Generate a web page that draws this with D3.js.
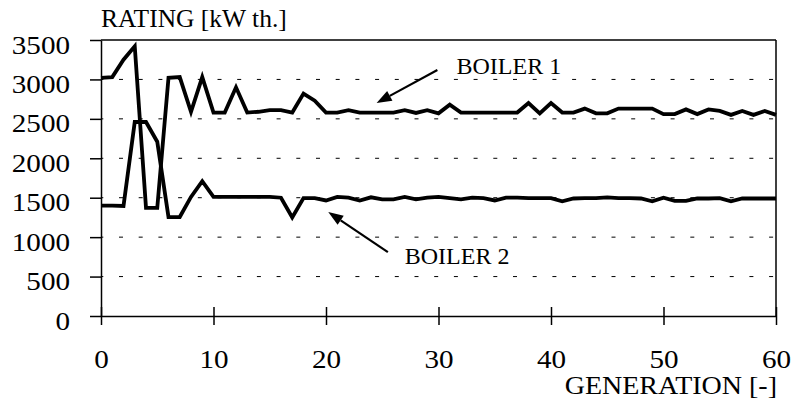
<!DOCTYPE html>
<html>
<head>
<meta charset="utf-8">
<script src="https://cdn.jsdelivr.net/npm/d3@7"></script>
<style>
  html, body { margin: 0; padding: 0; background: #fff; }
  svg { display: block; }
  text { font-family: "Liberation Serif", "Times New Roman", serif; fill: #000; }
</style>
</head>
<body>
<svg id="chart" width="792" height="405"></svg>
<script>
// ---- data ----
const generations = d3.range(0, 61);
const boiler1 = [3020, 3030, 3250, 3420, 1370, 1370, 3020, 3030, 2590, 3030,
                 2580, 2580, 2900, 2580, 2590, 2610, 2610, 2580, 2820, 2730,
                 2580, 2580, 2610, 2580, 2580, 2580, 2580, 2610, 2575, 2610,
                 2570, 2680, 2580, 2580, 2580, 2580, 2580, 2580, 2700, 2570,
                 2700, 2580, 2580, 2630, 2570, 2570, 2630, 2630, 2630, 2630,
                 2560, 2560, 2620, 2560, 2620, 2600, 2550, 2600, 2550, 2600,
                 2550];
const boiler2 = [1400, 1400, 1395, 2460, 2460, 2210, 1255, 1255, 1510, 1710,
                 1510, 1510, 1510, 1510, 1510, 1510, 1500, 1250, 1495, 1495,
                 1465, 1510, 1500, 1465, 1505, 1480, 1480, 1510, 1480, 1500,
                 1510, 1495, 1480, 1500, 1495, 1465, 1500, 1500, 1495, 1495,
                 1495, 1455, 1490, 1495, 1495, 1505, 1495, 1495, 1490, 1455,
                 1500, 1460, 1460, 1490, 1490, 1495, 1455, 1490, 1490, 1490,
                 1490];
const yTicks = [0, 500, 1000, 1500, 2000, 2500, 3000, 3500];
const xTicks = [0, 10, 20, 30, 40, 50, 60];
const gridValues = [500, 1000, 1500, 2000, 2500, 3000];
const yTitle = "RATING [kW th.]";
const xTitle = "GENERATION [-]";
// annotations in data units: label position, arrow tail, arrow tip
const annLabels = ["BOILER 1", "BOILER 2"];
const annTextPos = [[31.6, 3075], [27.0, 655]];
const annTail = [[29.9, 3120], [25.5, 810]];
const annTip = [[24.5, 2700], [20.2, 1320]];

// ---- chart ----
const svg = d3.select("#chart");
const x = d3.scaleLinear().domain([0, 60]).range([101, 776]);
const y = d3.scaleLinear().domain([0, 3500]).range([316, 40]);

function stretch(sel, factor) {
  sel.each(function () {
    const w = this.getComputedTextLength();
    d3.select(this).attr("textLength", w * factor).attr("lengthAdjust", "spacingAndGlyphs");
  });
}

// gridlines
svg.append("g").selectAll("line").data(gridValues).join("line")
  .attr("x1", x(0)).attr("x2", x(60))
  .attr("y1", d => y(d)).attr("y2", d => y(d))
  .attr("stroke", "#000").attr("stroke-width", 1)
  .attr("stroke-dasharray", "4 15.7").attr("stroke-dashoffset", -18);

// y axis
const yAxis = svg.append("g").attr("transform", `translate(${x(0)},0)`)
  .call(d3.axisLeft(y).tickValues(yTicks).tickSize(11).tickSizeOuter(0).tickPadding(20).tickFormat(d3.format("d")));
yAxis.selectAll("text").attr("dy", null).attr("y", 13).attr("font-size", null)
  .style("font-size", "26px");
// x axis
const xAxis = svg.append("g").attr("transform", `translate(0,${y(0)})`)
  .call(d3.axisBottom(x).tickValues(xTicks).tickSize(9).tickSizeOuter(0).tickFormat(d3.format("d")));
xAxis.selectAll(".tick line").attr("y1", -9).attr("y2", 9);
xAxis.selectAll("text").attr("dy", null).attr("y", 52)
  .style("font-size", "26px");
[yAxis, xAxis].forEach(a => {
  a.selectAll("path, line").attr("stroke", "#000").attr("stroke-width", 1.5);
  a.selectAll("text").attr("font-family", null);
  stretch(a.selectAll("text"), 1.12);
});

// frame: top and right
svg.append("line").attr("x1", x(0)).attr("x2", x(60)).attr("y1", y(3500)).attr("y2", y(3500))
  .attr("stroke", "#000").attr("stroke-width", 1.5);
svg.append("line").attr("x1", x(60)).attr("x2", x(60)).attr("y1", y(3500)).attr("y2", y(0))
  .attr("stroke", "#000").attr("stroke-width", 1.5);

// series
const line = d3.line().x((d, i) => x(generations[i])).y(d => y(d));
[boiler1, boiler2].forEach(s => {
  svg.append("path").datum(s).attr("d", line)
    .attr("fill", "none").attr("stroke", "#000").attr("stroke-width", 3.8)
    .attr("stroke-linejoin", "miter").attr("stroke-miterlimit", 4);
});

// titles
const yt = svg.append("text").attr("x", 101).attr("y", 27).style("font-size", "25px").text(yTitle);
stretch(yt, 1.02);
const xt = svg.append("text").attr("x", 777).attr("y", 394).attr("text-anchor", "end").style("font-size", "25px").text(xTitle);
stretch(xt, 1.12);

// annotations
annLabels.forEach((t, i) => {
  svg.append("text").attr("x", x(annTextPos[i][0])).attr("y", y(annTextPos[i][1]))
    .style("font-size", "24px").text(t);
  const x1 = x(annTail[i][0]), y1 = y(annTail[i][1]);
  const x2 = x(annTip[i][0]), y2 = y(annTip[i][1]);
  const ang = Math.atan2(y2 - y1, x2 - x1);
  const L = 15, W = 5.5;
  const bx = x2 - L * Math.cos(ang), by = y2 - L * Math.sin(ang);
  svg.append("line").attr("x1", x1).attr("y1", y1).attr("x2", bx).attr("y2", by)
    .attr("stroke", "#000").attr("stroke-width", 2.2);
  svg.append("path")
    .attr("d", `M${x2},${y2} L${bx + W * Math.sin(ang)},${by - W * Math.cos(ang)} L${bx - W * Math.sin(ang)},${by + W * Math.cos(ang)} Z`)
    .attr("fill", "#000");
});
</script>
</body>
</html>
